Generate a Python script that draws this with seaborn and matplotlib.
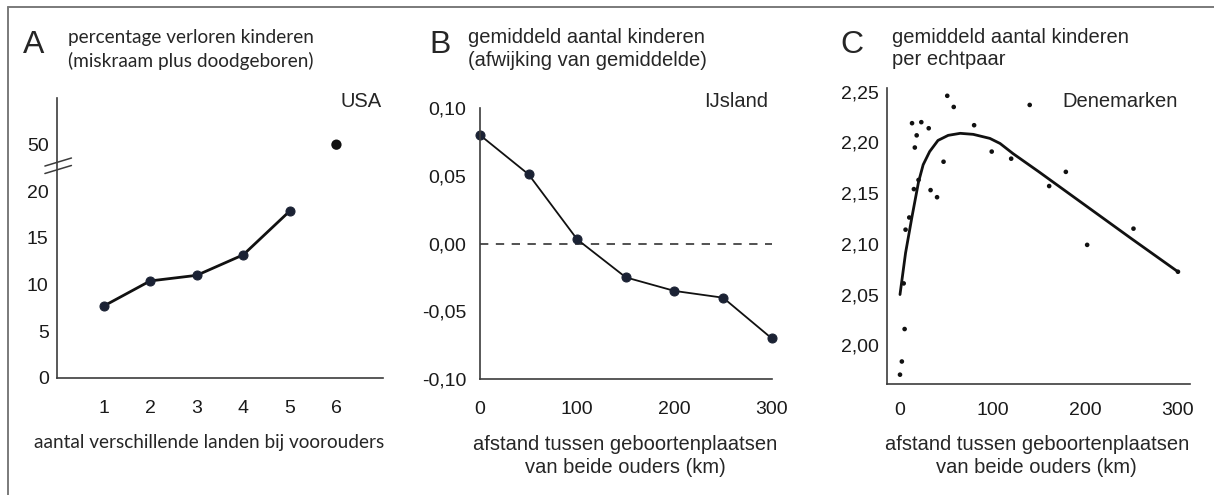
import matplotlib
matplotlib.use("Agg")
import matplotlib.pyplot as plt
import seaborn as sns
from matplotlib.lines import Line2D

# A: USA, verloren kinderen per aantal landen bij voorouders
landen = [1, 2, 3, 4, 5]
verloren_pct = [7.7, 10.4, 11.0, 13.2, 17.9]
landen_uitschieter = [6]
verloren_uitschieter = [50]
ytick_a = [0, 5, 10, 15, 20, 50]

# B: IJsland, afwijking van gemiddeld aantal kinderen
afstand_b = [0, 50, 100, 150, 200, 250, 300]
afwijking_b = [0.080, 0.051, 0.003, -0.025, -0.035, -0.040, -0.070]

# C: Denemarken, gemiddeld aantal kinderen per echtpaar
afstand_c = [0, 2, 5, 4, 6, 10, 15, 20, 16, 18, 13, 23, 31, 33, 40, 47,
             51, 58, 80, 99, 120, 140, 161, 179, 202, 252, 300]
kinderen_c = [1.971, 1.984, 2.016, 2.061, 2.114, 2.126, 2.154, 2.163, 2.195,
              2.207, 2.219, 2.220, 2.214, 2.153, 2.146, 2.181, 2.246, 2.235,
              2.217, 2.191, 2.184, 2.237, 2.157, 2.171, 2.099, 2.115, 2.0725]
trend_x = [0, 6, 13, 20, 25, 32, 41, 52, 65, 79, 97, 108, 122, 150, 200,
           250, 300]
trend_y = [2.050, 2.091, 2.127, 2.161, 2.178, 2.191, 2.202, 2.207, 2.209,
           2.208, 2.204, 2.199, 2.189, 2.171, 2.138, 2.105, 2.0725]

W, H = 1214, 495
BREAK_LOW, BREAK_POS = 20, 25   # 50 is drawn at 25 on the broken axis


def fx(x):
    return x / W


def fy(y):
    return 1 - y / H


def squeeze(v):
    return BREAK_POS + (v - 50) * 0.2 if v > BREAK_LOW else v


sns.set_style("white")
plt.rcParams["font.family"] = ["Liberation Sans", "DejaVu Sans"]
humanist = ["Lato", "DejaVu Sans"]
ink = "#111111"
dot = "#1b2234"
spine_col = "#3c3c3c"

fig = plt.figure(figsize=(W / 100, H / 100), dpi=100)

axA = fig.add_axes([fx(57), fy(378), (383 - 57) / W, (378 - 98) / H])
axB = fig.add_axes([fx(480), fy(379), (771.7 - 480) / W, (379 - 108) / H])
axC = fig.add_axes([fx(887.3), fy(384), (1190 - 887.3) / W, (384 - 88) / H])

for ax, ypad in [(axA, 6), (axB, 10), (axC, 6)]:
    sns.despine(ax=ax)
    for s in ["left", "bottom"]:
        ax.spines[s].set_color(spine_col)
        ax.spines[s].set_linewidth(1.2)
    ax.tick_params(axis="x", length=2.5, width=0.8, color="#999999",
                   pad=13, labelsize=14, labelcolor="#1a1a1a")
    ax.tick_params(axis="y", length=0, pad=ypad, labelsize=14,
                   labelcolor="#1a1a1a")
    ax.grid(False)

# ---- A ----
sns.lineplot(x=landen, y=verloren_pct, ax=axA, color=ink, lw=2.0,
             marker="o", markersize=6.5, markerfacecolor=dot,
             markeredgecolor=dot)
sns.scatterplot(x=landen_uitschieter,
                y=[squeeze(v) for v in verloren_uitschieter],
                ax=axA, color="#111111", s=55, edgecolor="none")
axA.set_xlim(0, 7)
axA.set_ylim(0, 30)
axA.set_xticks(landen + landen_uitschieter)
axA.set_yticks([squeeze(v) for v in ytick_a])
axA.set_yticklabels([str(v) for v in ytick_a])
for c in (22.3, 23.1):
    axA.plot([-0.26, 0.31], [c - 0.39, c + 0.47], color=spine_col, lw=1.1,
             clip_on=False)

# ---- B ----
axB.axhline(0, color="#333333", lw=1.2, dashes=(5, 4.5))
sns.lineplot(x=afstand_b, y=afwijking_b, ax=axB, color=ink, lw=1.3,
             marker="o", markersize=6.5, markerfacecolor=dot,
             markeredgecolor=dot, clip_on=False)
axB.set_xlim(0, 300)
axB.set_ylim(-0.10, 0.10)
axB.set_xticks(afstand_b)
axB.set_xticklabels([str(v) if v % 100 == 0 else "" for v in afstand_b])
axB.set_yticks([-0.10, -0.05, 0.0, 0.05, 0.10])
axB.set_yticklabels(["-0,10", "-0,05", "0,00", "0,05", "0,10"])

# ---- C ----
sns.scatterplot(x=afstand_c, y=kinderen_c, ax=axC, color=ink, s=11,
                edgecolor="none")
sns.lineplot(x=trend_x, y=trend_y, ax=axC, color=ink, lw=2.0)
axC.set_xlim(-13.7, 313)
axC.set_ylim(1.9618, 2.2537)
axC.set_xticks([0, 100, 200, 300])
axC.tick_params(axis="x", length=0)
axC.set_yticks([2.00, 2.05, 2.10, 2.15, 2.20, 2.25])
axC.set_yticklabels(["2,00", "2,05", "2,10", "2,15", "2,20", "2,25"])

# ---- texts ----
for letter, x in [("A", 23), ("B", 429), ("C", 840)]:
    fig.text(fx(x), fy(53), letter, fontsize=23, va="baseline", ha="left")

fig.text(fx(68), fy(42.7), "percentage verloren kinderen", fontsize=13.7,
         family=humanist, va="baseline")
fig.text(fx(68), fy(66.7), "(miskraam plus doodgeboren)", fontsize=13.7,
         family=humanist, va="baseline")
fig.text(fx(468), fy(42.7), "gemiddeld aantal kinderen", fontsize=14.5,
         va="baseline")
fig.text(fx(468), fy(66), "(afwijking van gemiddelde)", fontsize=14.5,
         va="baseline")
fig.text(fx(892), fy(42.7), "gemiddeld aantal kinderen", fontsize=14.5,
         va="baseline")
fig.text(fx(892), fy(65), "per echtpaar", fontsize=14.5, va="baseline")

fig.text(fx(382), fy(107.3), "USA", fontsize=14.5, ha="right", va="baseline")
fig.text(fx(768), fy(107.3), "IJsland", fontsize=14.5, ha="right",
         va="baseline")
fig.text(fx(1178), fy(107.3), "Denemarken", fontsize=14.5, ha="right",
         va="baseline")

fig.text(fx(209.5), fy(448), "aantal verschillende landen bij voorouders",
         fontsize=13.7, family=humanist, ha="center", va="baseline")
for cx in (625, 1036.7):
    fig.text(fx(cx), fy(450), "afstand tussen geboortenplaatsen",
             fontsize=14.5, ha="center", va="baseline")
    fig.text(fx(cx), fy(472.7), "van beide ouders (km)", fontsize=14.5,
             ha="center", va="baseline")

# frame (top and left edges visible in the original crop)
frame = "#7a7a7a"
fig.add_artist(Line2D([fx(8), 1], [fy(7), fy(7)], color=frame, lw=1.4))
fig.add_artist(Line2D([fx(8), fx(8)], [0, fy(7)], color=frame, lw=1.4))

fig.savefig("out.png", dpi=100)
